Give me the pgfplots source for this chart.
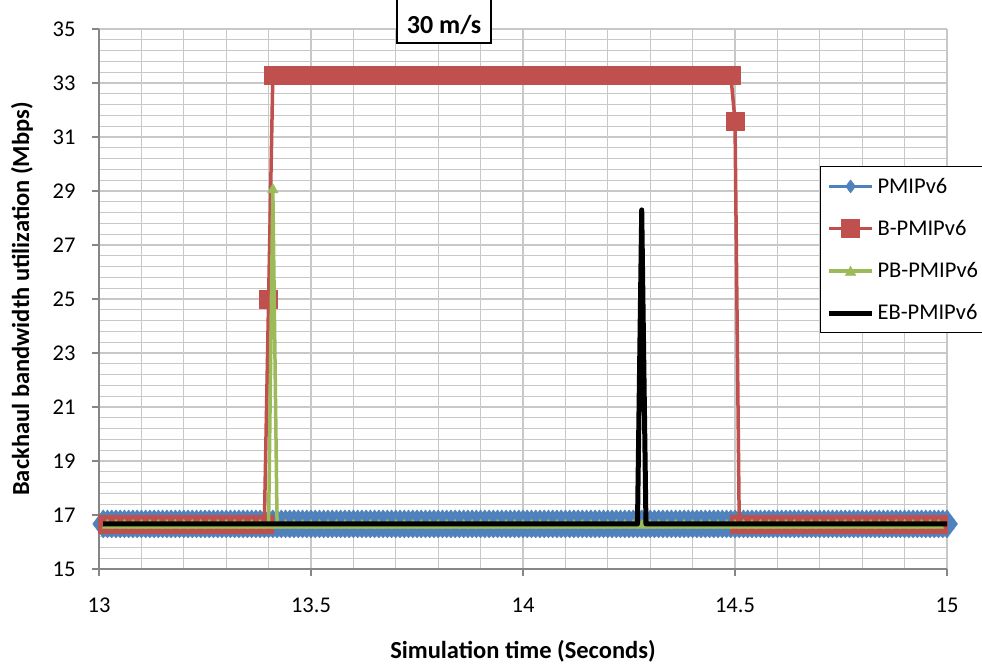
\documentclass[border=0pt]{standalone}
\usepackage{pgfplots}
\pgfplotsset{compat=1.18}
\usepackage{fontspec}
\setmainfont{Carlito}
\definecolor{pblue}{RGB}{79,129,189}
\definecolor{pred}{RGB}{192,80,77}
\definecolor{pgreen}{RGB}{155,187,89}
\definecolor{axgray}{RGB}{134,134,134}
\definecolor{gridgray}{RGB}{200,200,200}
\pgfplotsset{
  mylegend/.style={legend image code/.code={\draw[mark repeat=2,mark phase=2,##1] plot coordinates {(0pt,0pt) (21.5pt,0pt) (43pt,0pt)}; \path (44pt,0pt);}},
  bluelegend/.style={legend image code/.code={\draw[mark repeat=2,mark phase=2,##1,mark size=6.5pt] plot coordinates {(0pt,0pt) (21.5pt,0pt) (43pt,0pt)}; \path (44pt,0pt);}},
}
\begin{document}
\begin{tikzpicture}
\begin{axis}[
  at={(0pt,0pt)}, anchor=south west,
  scale only axis, width=848pt, height=540pt,
  xmin=13, xmax=15, ymin=15, ymax=35,
  xtick={13,13.5,14,14.5,15}, ytick={15,17,...,35},
  minor x tick num=4, minor y tick num=4,
  grid=both,
  major grid style={draw=gridgray, line width=1.3pt},
  minor grid style={draw=gridgray, line width=1.3pt},
  axis x line*=bottom, axis y line*=left,
  axis line style={draw=axgray, line width=1.5pt, -},
  tick style={draw=axgray, line width=1.5pt},
  tick align=outside, major tick length=7pt, minor tick length=0pt,
  /pgf/number format/assume math mode=true,
  tick label style={font=\fontsize{22.5}{27}\selectfont},
  xticklabel style={yshift=-18pt},
  yticklabel style={xshift=-13pt},
  xlabel={Simulation time (Seconds)},
  ylabel={Backhaul bandwidth utilization (Mbps)},
  label style={font=\fontsize{24.5}{29}\selectfont\bfseries},
  xlabel style={at={(axis description cs:0.5,-0.152)}, anchor=center},
  ylabel style={at={(axis description cs:-0.0908,0.5)}, anchor=center, rotate=0},
  clip=false, clip marker paths=true,
  mylegend,
  legend style={at={(0.8502,0.7463)}, anchor=north west, draw=black, line width=1.2pt, fill=white,
    font=\fontsize{22.5}{27}\selectfont, row sep=21.5pt, inner xsep=6pt, inner ysep=9.5pt,
    cells={anchor=west}},
  line join=round,
]
\addplot[color=pblue, line width=3.5pt, mark=diamond*, mark size=14pt, mark options={line width=0.5pt, fill=pblue}, bluelegend]
coordinates {
(13.01,16.67)(13.02,16.67)(13.03,16.67)(13.04,16.67)(13.05,16.67)(13.06,16.67)(13.07,16.67)(13.08,16.67)(13.09,16.67)(13.10,16.67)
(13.11,16.67)(13.12,16.67)(13.13,16.67)(13.14,16.67)(13.15,16.67)(13.16,16.67)(13.17,16.67)(13.18,16.67)(13.19,16.67)(13.20,16.67)
(13.21,16.67)(13.22,16.67)(13.23,16.67)(13.24,16.67)(13.25,16.67)(13.26,16.67)(13.27,16.67)(13.28,16.67)(13.29,16.67)(13.30,16.67)
(13.31,16.67)(13.32,16.67)(13.33,16.67)(13.34,16.67)(13.35,16.67)(13.36,16.67)(13.37,16.67)(13.38,16.67)(13.39,16.67)(13.40,16.67)
(13.41,16.67)(13.42,16.67)(13.43,16.67)(13.44,16.67)(13.45,16.67)(13.46,16.67)(13.47,16.67)(13.48,16.67)(13.49,16.67)(13.50,16.67)
(13.51,16.67)(13.52,16.67)(13.53,16.67)(13.54,16.67)(13.55,16.67)(13.56,16.67)(13.57,16.67)(13.58,16.67)(13.59,16.67)(13.60,16.67)
(13.61,16.67)(13.62,16.67)(13.63,16.67)(13.64,16.67)(13.65,16.67)(13.66,16.67)(13.67,16.67)(13.68,16.67)(13.69,16.67)(13.70,16.67)
(13.71,16.67)(13.72,16.67)(13.73,16.67)(13.74,16.67)(13.75,16.67)(13.76,16.67)(13.77,16.67)(13.78,16.67)(13.79,16.67)(13.80,16.67)
(13.81,16.67)(13.82,16.67)(13.83,16.67)(13.84,16.67)(13.85,16.67)(13.86,16.67)(13.87,16.67)(13.88,16.67)(13.89,16.67)(13.90,16.67)
(13.91,16.67)(13.92,16.67)(13.93,16.67)(13.94,16.67)(13.95,16.67)(13.96,16.67)(13.97,16.67)(13.98,16.67)(13.99,16.67)(14.00,16.67)
(14.01,16.67)(14.02,16.67)(14.03,16.67)(14.04,16.67)(14.05,16.67)(14.06,16.67)(14.07,16.67)(14.08,16.67)(14.09,16.67)(14.10,16.67)
(14.11,16.67)(14.12,16.67)(14.13,16.67)(14.14,16.67)(14.15,16.67)(14.16,16.67)(14.17,16.67)(14.18,16.67)(14.19,16.67)(14.20,16.67)
(14.21,16.67)(14.22,16.67)(14.23,16.67)(14.24,16.67)(14.25,16.67)(14.26,16.67)(14.27,16.67)(14.28,16.67)(14.29,16.67)(14.30,16.67)
(14.31,16.67)(14.32,16.67)(14.33,16.67)(14.34,16.67)(14.35,16.67)(14.36,16.67)(14.37,16.67)(14.38,16.67)(14.39,16.67)(14.40,16.67)
(14.41,16.67)(14.42,16.67)(14.43,16.67)(14.44,16.67)(14.45,16.67)(14.46,16.67)(14.47,16.67)(14.48,16.67)(14.49,16.67)(14.50,16.67)
(14.51,16.67)(14.52,16.67)(14.53,16.67)(14.54,16.67)(14.55,16.67)(14.56,16.67)(14.57,16.67)(14.58,16.67)(14.59,16.67)(14.60,16.67)
(14.61,16.67)(14.62,16.67)(14.63,16.67)(14.64,16.67)(14.65,16.67)(14.66,16.67)(14.67,16.67)(14.68,16.67)(14.69,16.67)(14.70,16.67)
(14.71,16.67)(14.72,16.67)(14.73,16.67)(14.74,16.67)(14.75,16.67)(14.76,16.67)(14.77,16.67)(14.78,16.67)(14.79,16.67)(14.80,16.67)
(14.81,16.67)(14.82,16.67)(14.83,16.67)(14.84,16.67)(14.85,16.67)(14.86,16.67)(14.87,16.67)(14.88,16.67)(14.89,16.67)(14.90,16.67)
(14.91,16.67)(14.92,16.67)(14.93,16.67)(14.94,16.67)(14.95,16.67)(14.96,16.67)(14.97,16.67)(14.98,16.67)(14.99,16.67)(15.00,16.67)
};
\addlegendentry{PMIPv6}
\addplot[color=pred, line width=3.5pt, mark=square*, mark size=9pt, mark options={line width=0.5pt, fill=pred}]
coordinates {
(13.02,16.67)(13.04,16.67)(13.06,16.67)(13.08,16.67)(13.10,16.67)(13.12,16.67)(13.14,16.67)(13.16,16.67)(13.18,16.67)(13.20,16.67)
(13.22,16.67)(13.24,16.67)(13.26,16.67)(13.28,16.67)(13.30,16.67)(13.32,16.67)(13.34,16.67)(13.36,16.67)(13.38,16.67)
(13.39,16.67)(13.40,25.0)(13.41,33.3)
(13.42,33.3)(13.44,33.3)(13.46,33.3)(13.48,33.3)(13.50,33.3)(13.52,33.3)(13.54,33.3)(13.56,33.3)(13.58,33.3)(13.60,33.3)
(13.62,33.3)(13.64,33.3)(13.66,33.3)(13.68,33.3)(13.70,33.3)(13.72,33.3)(13.74,33.3)(13.76,33.3)(13.78,33.3)(13.80,33.3)
(13.82,33.3)(13.84,33.3)(13.86,33.3)(13.88,33.3)(13.90,33.3)(13.92,33.3)(13.94,33.3)(13.96,33.3)(13.98,33.3)(14.00,33.3)
(14.02,33.3)(14.04,33.3)(14.06,33.3)(14.08,33.3)(14.10,33.3)(14.12,33.3)(14.14,33.3)(14.16,33.3)(14.18,33.3)(14.20,33.3)
(14.22,33.3)(14.24,33.3)(14.26,33.3)(14.28,33.3)(14.30,33.3)(14.32,33.3)(14.34,33.3)(14.36,33.3)(14.38,33.3)(14.40,33.3)
(14.42,33.3)(14.44,33.3)(14.46,33.3)(14.48,33.3)
(14.49,33.3)(14.50,31.6)(14.51,16.67)
(14.52,16.67)(14.54,16.67)(14.56,16.67)(14.58,16.67)(14.60,16.67)(14.62,16.67)(14.64,16.67)(14.66,16.67)(14.68,16.67)(14.70,16.67)
(14.72,16.67)(14.74,16.67)(14.76,16.67)(14.78,16.67)(14.80,16.67)(14.82,16.67)(14.84,16.67)(14.86,16.67)(14.88,16.67)(14.90,16.67)
(14.92,16.67)(14.94,16.67)(14.96,16.67)(14.98,16.67)
};
\addlegendentry{B-PMIPv6}
\addplot[color=pgreen, line width=3.5pt, mark=triangle*, mark size=6pt, mark options={line width=0.5pt, fill=pgreen, yshift=-1.5pt}]
coordinates {
(13.02,16.67)(13.04,16.67)(13.06,16.67)(13.08,16.67)(13.10,16.67)(13.12,16.67)(13.14,16.67)(13.16,16.67)(13.18,16.67)(13.20,16.67)
(13.22,16.67)(13.24,16.67)(13.26,16.67)(13.28,16.67)(13.30,16.67)(13.32,16.67)(13.34,16.67)(13.36,16.67)(13.38,16.67)(13.40,16.67)
(13.41,29.1)
(13.42,16.67)(13.44,16.67)(13.46,16.67)(13.48,16.67)(13.50,16.67)(13.52,16.67)(13.54,16.67)(13.56,16.67)(13.58,16.67)(13.60,16.67)
(13.62,16.67)(13.64,16.67)(13.66,16.67)(13.68,16.67)(13.70,16.67)(13.72,16.67)(13.74,16.67)(13.76,16.67)(13.78,16.67)(13.80,16.67)
(13.82,16.67)(13.84,16.67)(13.86,16.67)(13.88,16.67)(13.90,16.67)(13.92,16.67)(13.94,16.67)(13.96,16.67)(13.98,16.67)(14.00,16.67)
(14.02,16.67)(14.04,16.67)(14.06,16.67)(14.08,16.67)(14.10,16.67)(14.12,16.67)(14.14,16.67)(14.16,16.67)(14.18,16.67)(14.20,16.67)
(14.22,16.67)(14.24,16.67)(14.26,16.67)(14.28,16.67)(14.30,16.67)(14.32,16.67)(14.34,16.67)(14.36,16.67)(14.38,16.67)(14.40,16.67)
(14.42,16.67)(14.44,16.67)(14.46,16.67)(14.48,16.67)(14.50,16.67)(14.52,16.67)(14.54,16.67)(14.56,16.67)(14.58,16.67)(14.60,16.67)
(14.62,16.67)(14.64,16.67)(14.66,16.67)(14.68,16.67)(14.70,16.67)(14.72,16.67)(14.74,16.67)(14.76,16.67)(14.78,16.67)(14.80,16.67)
(14.82,16.67)(14.84,16.67)(14.86,16.67)(14.88,16.67)(14.90,16.67)(14.92,16.67)(14.94,16.67)(14.96,16.67)(14.98,16.67)
};
\addlegendentry{PB-PMIPv6}
\addplot[color=black, line width=5pt, no marks]
coordinates {(13.01,16.67)(14.27,16.67)(14.28,28.3)(14.29,16.67)(15.00,16.67)};
\addlegendentry{EB-PMIPv6}
\end{axis}
\draw[draw=black, line width=1.2pt, fill=white] (298pt,526pt) rectangle (392pt,600pt);
\node[font=\fontsize{26}{31}\selectfont\bfseries, anchor=center] at (345pt,544pt) {30 m/s};
\pgfresetboundingbox
\useasboundingbox (-99pt,-95pt) rectangle (883pt,569pt);
\end{tikzpicture}
\end{document}
